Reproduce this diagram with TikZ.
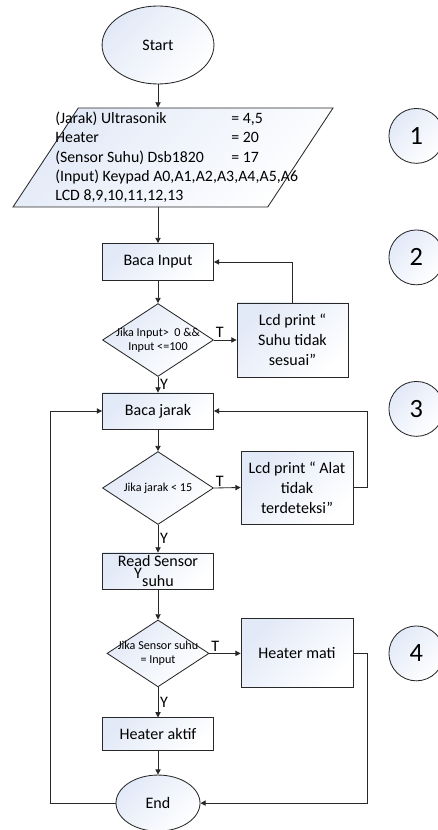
\documentclass[tikz,border=0pt]{standalone}
\usepackage{fontspec}
\setmainfont{Carlito}
\usetikzlibrary{shapes.geometric,arrows.meta}
\definecolor{boxblue}{RGB}{226,233,247}
\definecolor{linegray}{RGB}{40,40,40}

\tikzset{
    shadebox/.style = {draw = linegray, top color = boxblue, bottom color = white, shading angle = 45},
    process/.style = {shadebox, rectangle, minimum width = 3.7cm, align = center, inner sep = 0pt},
    decision/.style = {shadebox, diamond, minimum width = 3.7cm, minimum height = 2.43cm, inner sep = 0pt},
    terminal/.style = {shadebox, ellipse, inner sep = 0pt},
    numcircle/.style = {shadebox, circle, minimum size = 1.83cm, font = \fontsize{25}{30}\selectfont},
    smalltext/.style = {font = \fontsize{11.5}{13.3}\selectfont, align = center},
    arrow/.style = {-{Triangle[length = 5pt, width = 5pt]}},
    lab/.style = {inner sep = 1.5pt}
}

\begin{document}
\begin{tikzpicture}[
        line width = .8pt,
        draw = linegray,
        font = \fontsize{15.2}{18.8}\selectfont
    ]
        \useasboundingbox (0,0) rectangle (14.6,-27.667);

        % flow
        \node[terminal, minimum width = 3.73cm, minimum height = 2.6cm] (start) at (5.267,-1.5) {Start};
        \node[shadebox, trapezium, trapezium left angle = 71, trapezium right angle = 109,
            trapezium stretches = true, minimum width = 10.67cm, minimum height = 3.3cm] (io) at (5.767,-5.25) {};
        \node[anchor = west, align = left, inner sep = 0pt, font = \fontsize{15}{18.3}\selectfont] (iotext) at (1.83,-5.25) {%
            \makebox[5.87cm][l]{(Jarak) Ultrasonik}= 4,5\\
            \makebox[5.87cm][l]{Heater}= 20\\
            \makebox[5.87cm][l]{(Sensor Suhu) Dsb1820}= 17\\
            (Input) Keypad A0,A1,A2,A3,A4,A5,A6\\
            LCD 8,9,10,11,12,13};
        \node[process, minimum height = 1.23cm] (binput) at (5.267,-8.733) {Baca Input};
        \node[decision] (dinput) at (5.267,-11.333) {};
        \node[smalltext] (dinputtext) at (dinput.center) {Jika Input>\ \ 0 \&\&\\Input <=100};
        \node[process, minimum height = 2.47cm] (lcdsuhu) at (9.75,-11.333) {Lcd print “\\Suhu tidak\\sesuai”};
        \node[process, minimum height = 1.2cm] (bjarak) at (5.267,-13.7) {Baca jarak};
        \node[decision] (djarak) at (5.267,-16.267) {};
        \node[smalltext] (djaraktext) at (djarak.center) {Jika jarak < 15};
        \node[process, minimum width = 3.73cm, minimum height = 2.43cm] (lcdalat) at (9.9,-16.25) {Lcd print “ Alat\\tidak\\terdeteksi”};
        \node[process, minimum height = 1.2cm] (rsensor) at (5.267,-19.033) {};
        \node[align = center, inner sep = 0pt] (rsensortext) at (rsensor.center) {Read Sensor\\suhu};
        \node (stray) at (4.6,-19.1) {Y};
        \node[decision, minimum width = 3.4cm, minimum height = 2.23cm] (dsuhu) at (5.267,-21.78) {};
        \node[smalltext] (dsuhutext) at (dsuhu.center) {Jika Sensor suhu\\= Input};
        \node[process, minimum width = 3.73cm, minimum height = 2.3cm] (hmati) at (9.9,-21.78) {Heater mati};
        \node[process, minimum height = 1.1cm] (haktif) at (5.267,-24.48) {Heater aktif};
        \node[terminal, minimum width = 2.8cm, minimum height = 1.87cm] (end) at (5.267,-26.77) {End};

        % step numbers
        \node[numcircle] (n1) at (13.88,-4.53) {1};
        \node[numcircle] (n2) at (13.88,-8.58) {2};
        \node[numcircle] (n3) at (13.88,-13.63) {3};
        \node[numcircle] (n4) at (13.88,-21.78) {4};

        % connectors
        \draw[arrow] (start.south) -- (start.south |- io.north);
        \draw[arrow] (binput.north |- io.south) -- (binput.north);
        \draw[arrow] (binput.south) -- (dinput.north);
        \draw[arrow] (dinput.east) -- node[pos = 0, above right, lab] {T} (lcdsuhu.west);
        \draw[arrow] (lcdsuhu.north) |- (binput.east);
        \draw[arrow] (dinput.south) -- node[right, lab] {Y} (bjarak.north);
        \draw[arrow] (bjarak.south) -- (djarak.north);
        \draw[arrow] (djarak.east) -- node[pos = 0, above right, lab] {T} (lcdalat.west);
        \draw[arrow] (lcdalat.east) -- ++(.47,0) |- (bjarak.east);
        \draw[arrow] (djarak.south) -- node[right, lab] {Y} (rsensor.north);
        \draw[arrow] (rsensor.south) -- (dsuhu.north);
        \draw[arrow] (dsuhu.east) -- node[pos = 0, above right, lab] {T} (hmati.west);
        \draw[arrow] (dsuhu.south) -- node[right, lab] {Y} (haktif.north);
        \draw[arrow] (haktif.south) -- (end.north);
        \draw[arrow] (hmati.east) -- ++(.47,0) |- (end.east);
        \draw[arrow] (end.west) -- ++(-2.167,0) |- (bjarak.west);
    \end{tikzpicture}
\end{document}
